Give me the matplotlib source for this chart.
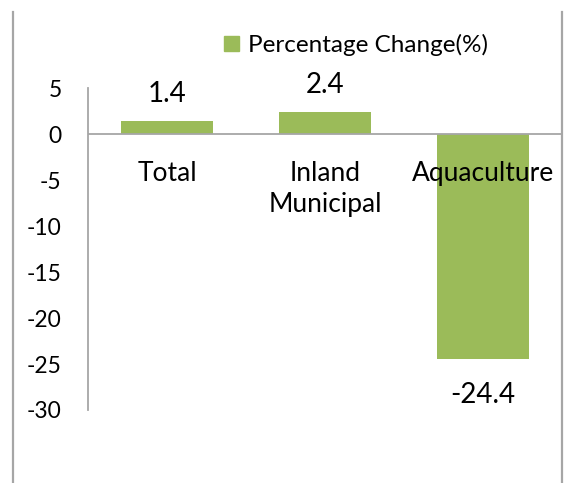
import matplotlib
matplotlib.use("Agg")
import matplotlib.pyplot as plt
from matplotlib.patches import Patch
from matplotlib.lines import Line2D

# data
categories = ["Total", "Inland\nMunicipal", "Aquaculture"]
pct_change = [1.4, 2.4, -24.4]
y_ticks = [5, 0, -5, -10, -15, -20, -25, -30]
series_name = "Percentage Change(%)"

green = "#9BBB59"
gray = "#A6A6A6"

plt.rcParams["font.family"] = ["Lato", "DejaVu Sans"]

fig = plt.figure(figsize=(5.67, 4.83), dpi=100)
ax = fig.add_axes([88 / 567, 1 - 410 / 483, 474 / 567, (410 - 88.3) / 483])

x = list(range(len(categories)))
ax.bar(x, pct_change, width=0.58, color=green, zorder=2)
ax.axhline(0, color=gray, lw=1.3, zorder=3)

ax.set_xlim(-0.5, len(categories) - 0.5)
ax.set_ylim(-30, 5)
ax.set_yticks(y_ticks)
ax.set_yticklabels([str(t) for t in y_ticks])
ax.tick_params(axis="y", length=0, pad=19, labelsize=16.5)
ax.set_xticks([])

for side in ["top", "right", "bottom"]:
    ax.spines[side].set_visible(False)
ax.spines["left"].set_color(gray)
ax.spines["left"].set_linewidth(1.3)

# value labels
for i, v in enumerate(pct_change):
    if v >= 0:
        ax.annotate(f"{v}", (i, v), xytext=(0, 14), textcoords="offset points",
                    ha="center", va="baseline", fontsize=20)
    else:
        ax.annotate(f"{v}", (i, v), xytext=(0, -17), textcoords="offset points",
                    ha="center", va="top", fontsize=20)

# category labels just under the zero line
for i, c in enumerate(categories):
    ax.annotate(c, (i, 0), xytext=(0, -19), textcoords="offset points",
                ha="center", va="top", fontsize=19, linespacing=1.3)

fig.legend(handles=[Patch(color=green, label=series_name)],
           loc="center", bbox_to_anchor=(356 / 567, 1 - 45 / 483),
           frameon=False, fontsize=17.5, handlelength=0.62, handleheight=0.62,
           handletextpad=0.35, borderpad=0)

# outer frame lines (left and right)
for xf in [13 / 567, 562 / 567]:
    fig.add_artist(Line2D([xf, xf], [0, 1 - 12 / 483], color=gray, lw=1.6))

fig.savefig("out.png", dpi=100)
